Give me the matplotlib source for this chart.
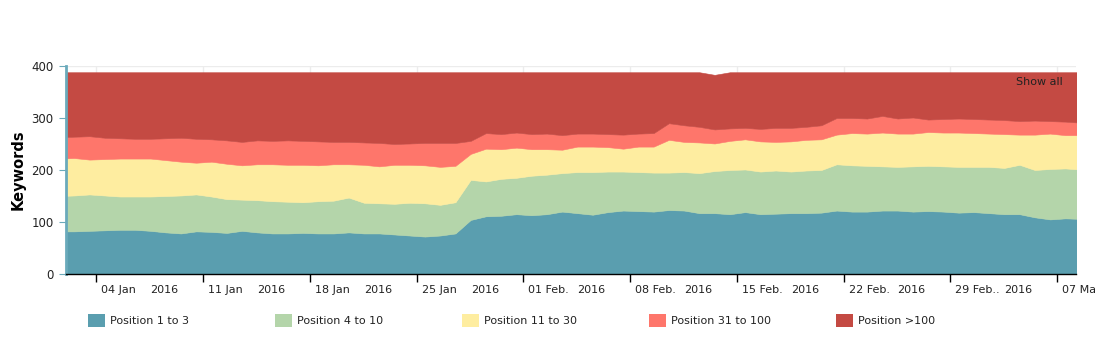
import numpy as np
import pandas as pd
from matplotlib import pyplot as plt
from matplotlib.patches import Patch
import matplotlib.dates as mdates

# daily keyword counts per ranking bucket, 01 Jan .. 08 Mar 2016
days = pd.date_range('2016-01-01', periods=68, freq='D')

pos_1_3 = [82, 82, 83, 84, 85, 85, 83, 80, 78, 82, 81, 79, 83, 80, 78, 78, 79,
           78, 78, 80, 78, 78, 76, 74, 72, 74, 78, 104, 111, 112, 115, 113, 115,
           120, 117, 114, 119, 122, 121, 120, 123, 122, 117, 117, 115, 119, 115,
           116, 117, 117, 118, 122, 120, 120, 122, 122, 120, 121, 120, 118, 119,
           117, 115, 115, 109, 105, 107, 106]
pos_4_10 = [68, 69, 70, 67, 64, 64, 66, 70, 73, 71, 68, 65, 60, 62, 62, 61, 59,
            62, 63, 67, 59, 58, 59, 63, 64, 59, 60, 77, 67, 71, 70, 76, 76,
            74, 79, 82, 78, 75, 75, 75, 72, 74, 77, 81, 85, 82, 82,
            83, 80, 82, 82, 89, 89, 88, 85, 84, 87, 87, 87, 88, 87,
            89, 89, 95, 91, 97, 96, 95]
pos_11_30 = [72, 72, 67, 70, 73, 73, 73, 69, 65, 61, 67, 68, 66, 69, 71, 71, 72,
             69, 70, 64, 73, 71, 75, 73, 73, 73, 70, 50, 63, 57, 58, 51, 49,
             45, 49, 49, 47, 44, 49, 50, 63, 58, 59, 53, 56, 58, 58,
             55, 58, 59, 59, 57, 62, 62, 65, 64, 63, 65, 65, 66, 65,
             64, 65, 58, 68, 68, 64, 66]
pos_31_100 = [41, 41, 45, 41, 39, 38, 38, 42, 46, 46, 43, 45, 45, 46, 45, 47, 46,
              46, 43, 43, 43, 45, 40, 41, 43, 46, 44, 25, 30, 29, 29, 29, 30,
              28, 25, 25, 25, 27, 25, 26, 32, 32, 30, 27, 24, 22, 24,
              27, 26, 25, 27, 32, 29, 29, 32, 29, 31, 24, 26, 27, 27,
              27, 27, 26, 27, 24, 26, 24]
pos_over_100 = [125, 124, 123, 126, 127, 128, 128, 127, 126, 128, 129, 131, 134, 131, 132, 131, 132,
                133, 134, 134, 135, 136, 138, 137, 136, 136, 136, 132, 117, 119, 116, 119, 118,
                121, 118, 118, 119, 120, 118, 117, 98, 102, 105, 105, 108, 107, 109,
                107, 107, 105, 102, 88, 88, 89, 84, 89, 87, 91, 90, 89, 90,
                91, 92, 94, 93, 94, 95, 97]

labels = ['Position 1 to 3', 'Position 4 to 10', 'Position 11 to 30',
          'Position 31 to 100', 'Position >100']
colors = ['#5a9eaf', '#b4d5aa', '#feeda0', '#fe766b', '#c44a43']

tick_days = pd.date_range('2016-01-04', periods=10, freq='7D')
tick_names = ['04 Jan', '11 Jan', '18 Jan', '25 Jan', '01 Feb.', '08 Feb.',
              '15 Feb.', '22 Feb.', '29 Feb..', '07 Mar']

fig = plt.figure(figsize=(10.95, 3.38), dpi=100)
ax = fig.add_axes([66/1095, 64/338, 1009.5/1095, 208/338])

x = days + pd.Timedelta(hours=13)
ax.stackplot(x, pos_1_3, pos_4_10, pos_11_30, pos_31_100, pos_over_100,
             colors=colors, edgecolor='face', linewidth=0.4, zorder=2)

ax.set_xlim(pd.Timestamp('2016-01-02'), pd.Timestamp('2016-03-08 05:00'))
ax.set_ylim(0, 400)
ax.set_yticks([0, 100, 200, 300, 400])
ax.set_xticks(tick_days)
ax.set_xticklabels([])
ax.grid(True, color='#ececec', linewidth=1, zorder=0)
ax.set_axisbelow(True)

for s in ['top', 'right']:
    ax.spines[s].set_visible(False)
ax.spines['left'].set_color('#6aaabb')
ax.spines['left'].set_linewidth(2)
ax.spines['bottom'].set_color('black')
ax.spines['bottom'].set_linewidth(1)
ax.tick_params(axis='y', length=5, color='#6aaabb', labelsize=8.5,
               labelcolor='#222222', pad=4)
ax.tick_params(axis='x', length=6, color='black', width=1)

for d, name in zip(tick_days, tick_names):
    ax.annotate(name, xy=(d, 0), xycoords=('data', 'axes fraction'),
                xytext=(5, -11), textcoords='offset pixels', ha='left',
                va='top', fontsize=8, color='#222222', annotation_clip=False)
    if name != '07 Mar':
        ax.annotate('2016', xy=(d, 0), xycoords=('data', 'axes fraction'),
                    xytext=(54, -11), textcoords='offset pixels', ha='left',
                    va='top', fontsize=8, color='#222222', annotation_clip=False)

ax.set_ylabel('Keywords', fontsize=10.5, fontweight='bold', labelpad=4)
ax.text(0.987, 0.925, 'Show all', transform=ax.transAxes, ha='right',
        va='center', fontsize=8, color='#222222', zorder=5)

for i, (lab, col) in enumerate(zip(labels, colors)):
    fig.legend(handles=[Patch(facecolor=col, edgecolor='none')], labels=[lab],
               loc='center left', bbox_to_anchor=((88 + 187*i)/1095, 1 - 320.5/338),
               frameon=False, fontsize=8, handlelength=1.55, handleheight=1.55,
               handletextpad=0.45, borderpad=0, borderaxespad=0,
               labelcolor='#222222')

fig.savefig('out.png', dpi=100)
